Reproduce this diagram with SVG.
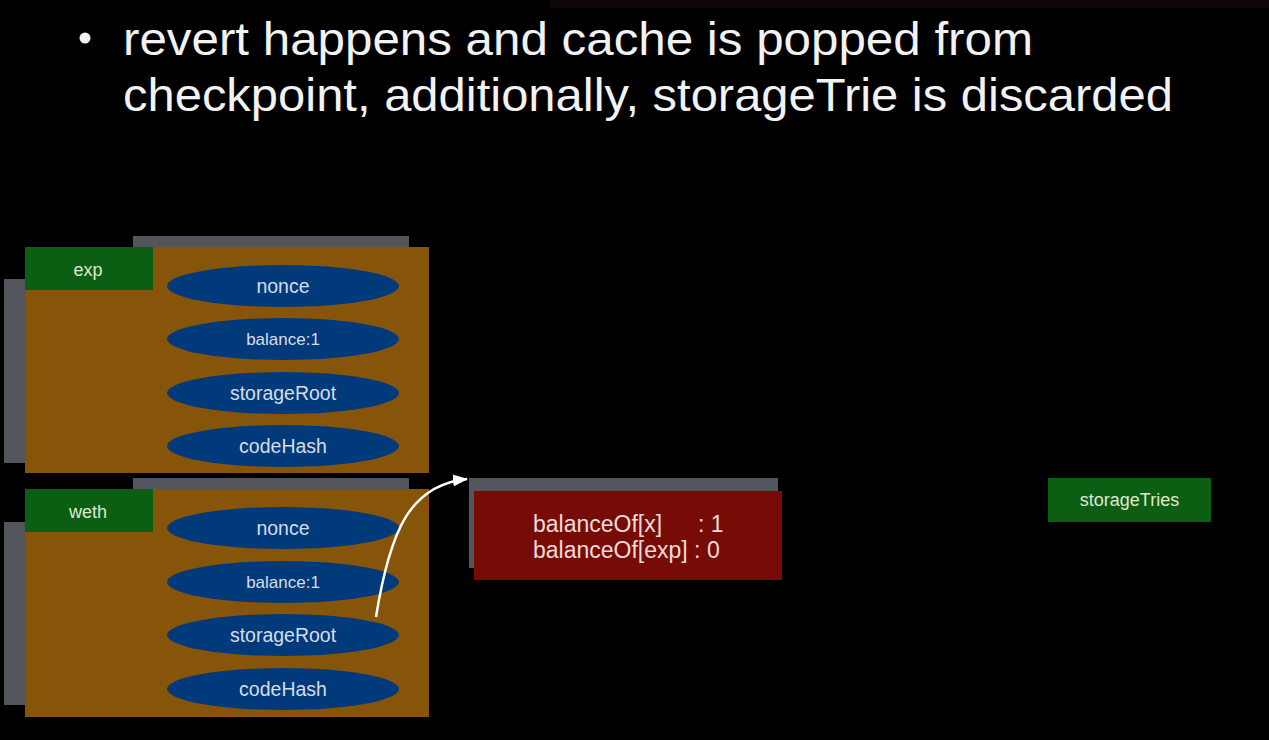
<svg xmlns="http://www.w3.org/2000/svg" width="1269" height="740" viewBox="0 0 1269 740">
<defs>
<style>
.bg{fill:#000}
.shadow{fill:#52565c}
.acct{fill:#87550a}
.lbl{fill:#0c5e13}
.field{fill:#013a7a}
.ftxt{font-family:"Liberation Sans",Arial,sans-serif;fill:#d6dde8;text-anchor:middle}
.ltxt{font-family:"Liberation Sans",Arial,sans-serif;font-size:18px;fill:#dfe9cf;text-anchor:middle}
.title{font-family:"Liberation Sans",Arial,sans-serif;font-size:46px;fill:#f2f2f2}
.rtxt{font-family:"Liberation Sans",Arial,sans-serif;font-size:23px;fill:#f0dada}
.conn{fill:none;stroke:#fff;stroke-width:2.5}
</style>
<marker id="arr" markerUnits="userSpaceOnUse" markerWidth="16" markerHeight="12" refX="14" refY="6" orient="auto">
<path d="M0,0 L15,6 L0,12 z" fill="#fff"/>
</marker>
</defs>
<rect class="bg" x="0" y="0" width="1269" height="740"/>
<rect x="550" y="0" width="719" height="8" fill="#0e0806"/>

<g id="title">
<circle cx="85" cy="38" r="5.5" fill="#f2f2f2"/>
<text class="title" x="123" y="55" textLength="910" lengthAdjust="spacingAndGlyphs">revert happens and cache is popped from</text>
<text class="title" x="123" y="111" textLength="1050" lengthAdjust="spacingAndGlyphs">checkpoint, additionally, storageTrie is discarded</text>
</g>

<g id="exp">
<rect class="shadow" x="133" y="236" width="276" height="14"/>
<rect class="shadow" x="4" y="279" width="22" height="184"/>
<rect class="acct" x="25" y="247" width="404" height="226"/>
<rect class="lbl" x="25" y="247" width="128" height="43"/>
<text class="ltxt" x="88" y="276">exp</text>
<ellipse class="field" cx="283" cy="286" rx="116" ry="21"/>
<text class="ftxt" x="283" y="293" font-size="19.5">nonce</text>
<ellipse class="field" cx="283" cy="339" rx="116" ry="21"/>
<text class="ftxt" x="283" y="345" font-size="17">balance:1</text>
<ellipse class="field" cx="283" cy="393" rx="116" ry="21"/>
<text class="ftxt" x="283" y="400" font-size="19.5">storageRoot</text>
<ellipse class="field" cx="283" cy="446" rx="116" ry="21"/>
<text class="ftxt" x="283" y="453" font-size="19.5">codeHash</text>
</g>

<g id="weth">
<rect class="shadow" x="133" y="478" width="276" height="14"/>
<rect class="shadow" x="4" y="522" width="22" height="183"/>
<rect class="acct" x="25" y="489" width="404" height="228"/>
<rect class="lbl" x="25" y="489" width="128" height="43"/>
<text class="ltxt" x="88" y="518">weth</text>
<ellipse class="field" cx="283" cy="528" rx="116" ry="21"/>
<text class="ftxt" x="283" y="535" font-size="19.5">nonce</text>
<ellipse class="field" cx="283" cy="582" rx="116" ry="21"/>
<text class="ftxt" x="283" y="588" font-size="17">balance:1</text>
<ellipse class="field" cx="283" cy="635" rx="116" ry="21"/>
<text class="ftxt" x="283" y="642" font-size="19.5">storageRoot</text>
<ellipse class="field" cx="283" cy="689" rx="116" ry="21"/>
<text class="ftxt" x="283" y="696" font-size="19.5">codeHash</text>
</g>

<g id="storage">
<rect class="shadow" x="469" y="478" width="309" height="90"/>
<rect x="474" y="491" width="308" height="89" fill="#770c06"/>
<text class="rtxt" x="533" y="532">balanceOf[x]</text>
<text class="rtxt" x="698" y="532">: 1</text>
<text class="rtxt" x="533" y="558">balanceOf[exp] : 0</text>
</g>

<g id="storageTries">
<rect class="lbl" x="1048" y="478" width="163" height="44"/>
<text class="ltxt" x="1129.5" y="506">storageTries</text>
</g>

<g id="connectors">
<path class="conn" d="M376,617 C390,530 410,485 467,479" marker-end="url(#arr)"/>
</g>
</svg>
